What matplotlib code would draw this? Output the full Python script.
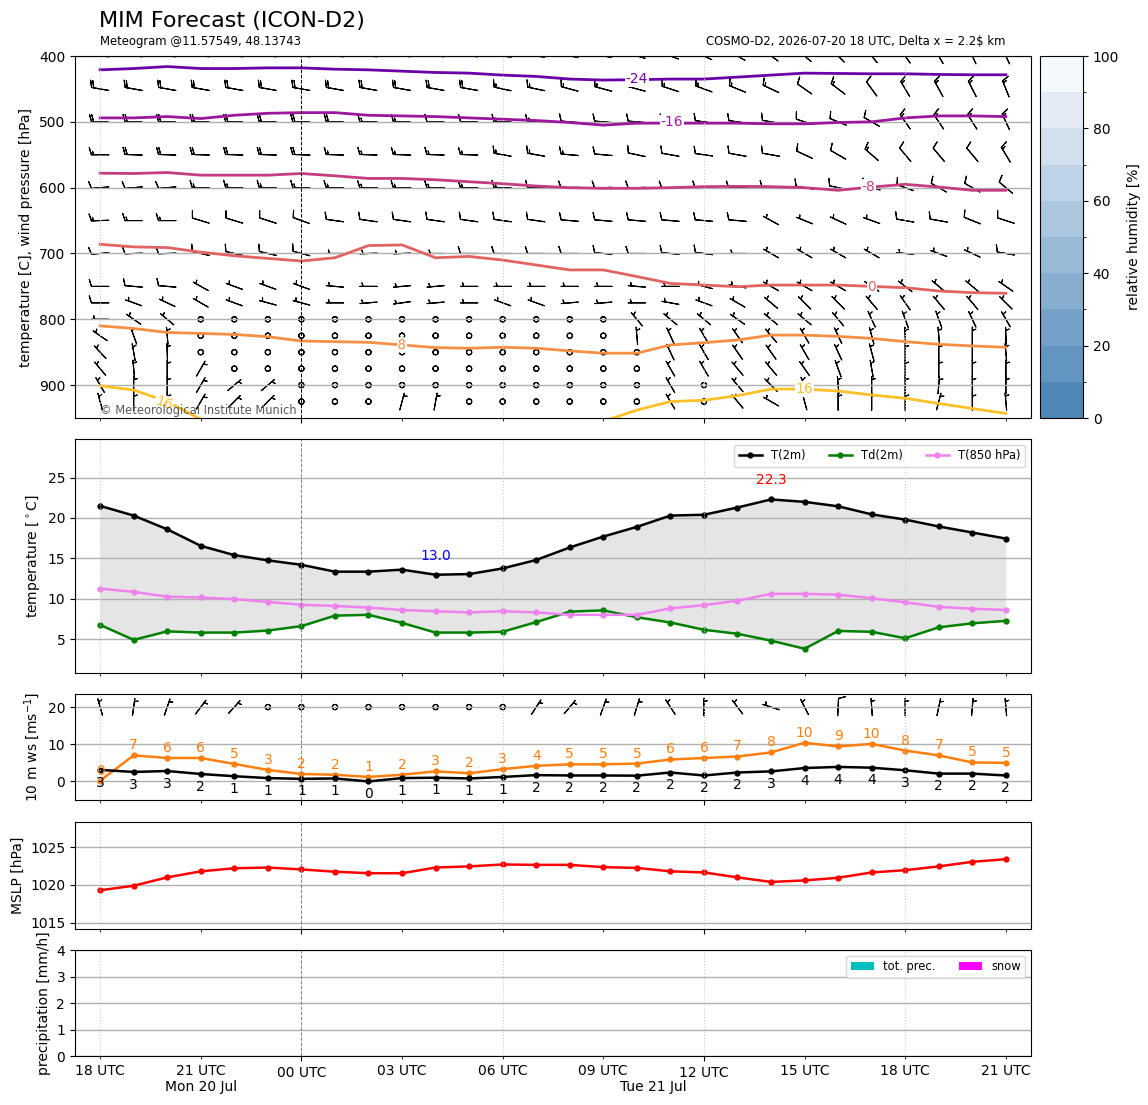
import numpy as np
import pandas as pd
import matplotlib
matplotlib.use("Agg")
import matplotlib.pyplot as plt
import matplotlib.dates as mdates
import matplotlib.transforms as mtransforms
from matplotlib.colors import LinearSegmentedColormap, ListedColormap, BoundaryNorm
from matplotlib.cm import ScalarMappable

# ---------------- data ----------------
times = pd.date_range("2026-07-20 18:00", periods=28, freq="h")

t2m = [21.5, 20.3, 18.6, 16.55, 15.4, 14.75, 14.2, 13.35, 13.35, 13.6, 12.97, 13.05, 13.75, 14.8,
       16.35, 17.7, 18.9, 20.3, 20.4, 21.3, 22.3, 22.0, 21.45, 20.45, 19.8, 18.95, 18.2, 17.45]
td2m = [6.75, 4.9, 5.95, 5.8, 5.8, 6.05, 6.6, 7.9, 8.0, 7.0, 5.8, 5.8, 5.9, 7.1,
        8.4, 8.55, 7.7, 7.05, 6.15, 5.65, 4.8, 3.8, 6.0, 5.9, 5.1, 6.45, 6.95, 7.25]
t850 = [11.25, 10.85, 10.25, 10.15, 9.95, 9.6, 9.25, 9.1, 8.9, 8.6, 8.45, 8.3, 8.45, 8.3,
        8.0, 8.0, 8.0, 8.8, 9.2, 9.75, 10.6, 10.6, 10.5, 10.05, 9.55, 9.0, 8.75, 8.6]

ws10 = [3.1, 2.55, 2.8, 2.0, 1.4, 0.9, 0.7, 0.8, 0.0, 0.9, 1.0, 0.8, 1.2, 1.7,
        1.6, 1.6, 1.55, 2.4, 1.6, 2.4, 2.7, 3.6, 3.9, 3.7, 3.0, 2.1, 2.1, 1.6]
gust10 = [0.2, 7.0, 6.3, 6.3, 4.7, 3.1, 2.0, 1.8, 1.2, 1.8, 2.7, 2.2, 3.3, 4.2,
          4.6, 4.6, 4.8, 5.9, 6.3, 6.7, 7.8, 10.4, 9.4, 10.1, 8.3, 7.0, 5.1, 5.0]
wd10 = [344, 8, 19, 37, 42, 40, 40, 40, 40, 40, 40, 40, 40, 33,
        40, 20, 17, 327, 0, 323, 288, 333, 3, 356, 0, 12, 5, 355]

mslp = [1019.3, 1019.9, 1021.0, 1021.8, 1022.2, 1022.3, 1022.05, 1021.75, 1021.55, 1021.55,
        1022.3, 1022.45, 1022.7, 1022.65, 1022.65, 1022.35, 1022.25, 1021.8, 1021.65, 1021.0,
        1020.4, 1020.6, 1020.95, 1021.65, 1021.95, 1022.45, 1023.05, 1023.4]

precip = [0, 0, 0, 0, 0, 0, 0, 0, 0, 0, 0, 0, 0, 0, 0, 0, 0, 0, 0, 0, 0, 0, 0, 0, 0, 0, 0, 0]
snow = [0, 0, 0, 0, 0, 0, 0, 0, 0, 0, 0, 0, 0, 0, 0, 0, 0, 0, 0, 0, 0, 0, 0, 0, 0, 0, 0, 0]

# isotherm heights [hPa] per hour (nan = outside panel)
nan = np.nan
iso_m24 = [421, 419, 416, 419, 419, 418, 418, 420, 421, 423, 425, 426, 429, 431,
           435, 436.5, 436, 435, 435, 432, 429, 426, 426.5, 427, 427, 428, 428.5, 428.5]
iso_m16 = [494, 494, 492, 495, 490, 487, 486, 486, 490, 491, 492, 494, 496, 498,
           501, 505, 502, 502, 502, 502, 503, 503, 501, 500, 494, 491, 491, 492]
iso_m8 = [578, 578.5, 577, 581, 581, 581, 578.5, 582, 586, 586, 588, 591, 594, 597.5,
          600, 601, 601, 600, 598.5, 598, 598.5, 600, 604, 599, 595, 599, 604, 604]
iso_0 = [686, 690, 691, 698, 703.5, 707.5, 711.5, 706.5, 688, 687, 706.5, 704.5, 710, 717.5,
         725, 725, 735, 745.5, 748, 750.5, 748, 748, 748, 750, 752, 757, 759.5, 760.5]
iso_8 = [810, 814, 820, 821.5, 823, 826.5, 833, 834, 835, 839, 843, 844, 842.5, 844,
         848, 851.5, 851.5, 839, 835.5, 831.5, 824, 824, 826, 829, 834, 838, 840.5, 842.5]
iso_16 = [901, 907.5, 925, 952, nan, nan, nan, nan, nan, nan, nan, nan, nan, nan,
          nan, 955, 938, 925, 923, 916, 906, 906, 909, 915, 920, 928, 935.5, 943]
iso_values = [-24, -16, -8, 0, 8, 16]

# upper air wind: speed [kt] and direction [deg] per level
levels = [400, 450, 500, 550, 600, 650, 700, 750, 775, 800, 825, 850, 875, 900, 925]
ff400 = [20, 20, 20, 20, 20, 20, 20, 20, 20, 20, 20, 20, 20, 20, 15, 15, 15, 15, 15, 15, 15, 15, 15, 15, 15, 15, 15, 15]
dd400 = [275, 275, 275, 275, 275, 275, 275, 275, 275, 275, 275, 275, 278, 278, 280, 280, 285, 290, 295, 300, 305, 310, 315, 320, 325, 330, 335, 335]
ff450 = [20, 20, 20, 20, 20, 20, 20, 20, 20, 20, 20, 20, 15, 15, 15, 15, 15, 15, 15, 15, 15, 10, 15, 10, 15, 15, 15, 15]
dd450 = [280, 280, 280, 280, 280, 280, 280, 280, 280, 280, 280, 280, 282, 282, 285, 285, 285, 288, 290, 292, 295, 305, 307, 324, 329, 331, 333, 338]
ff500 = [20, 20, 20, 20, 20, 20, 20, 20, 15, 15, 10, 10, 15, 15, 10, 10, 10, 10, 10, 10, 10, 10, 10, 10, 15, 15, 15, 15]
dd500 = [272, 272, 272, 272, 272, 272, 272, 272, 272, 272, 272, 272, 272, 272, 275, 275, 275, 275, 278, 278, 280, 288, 292, 300, 325, 326, 328, 335]
ff550 = [15, 20, 20, 20, 20, 20, 20, 15, 15, 15, 15, 15, 15, 15, 15, 10, 10, 10, 10, 10, 10, 10, 10, 15, 10, 10, 10, 15]
dd550 = [270, 272, 272, 272, 272, 272, 272, 272, 272, 272, 272, 272, 280, 280, 275, 275, 282, 280, 278, 280, 280, 295, 300, 311, 320, 320, 320, 329]
ff600 = [10, 10, 10, 15, 15, 15, 15, 15, 15, 15, 15, 15, 15, 10, 10, 10, 10, 10, 10, 10, 10, 10, 10, 10, 10, 10, 10, 10]
dd600 = [265, 265, 265, 272, 272, 272, 272, 270, 270, 270, 270, 270, 272, 272, 268, 268, 268, 268, 268, 268, 270, 280, 282, 285, 290, 300, 300, 310]
ff650 = [15, 15, 15, 10, 10, 10, 10, 10, 10, 10, 10, 10, 10, 10, 10, 10, 10, 10, 10, 10, 5, 5, 5, 5, 10, 10, 10, 10]
dd650 = [268, 270, 270, 287, 287, 288, 290, 278, 278, 278, 278, 278, 278, 278, 275, 275, 275, 275, 275, 275, 299, 292, 295, 290, 280, 280, 292, 288]
ff700 = [10, 10, 10, 10, 10, 10, 10, 5, 5, 5, 5, 10, 10, 10, 10, 10, 10, 10, 10, 5, 5, 5, 5, 5, 5, 5, 5, 10]
dd700 = [265, 268, 268, 283, 283, 283, 285, 270, 268, 268, 270, 270, 270, 270, 270, 275, 270, 275, 278, 270, 300, 300, 300, 300, 275, 290, 295, 280]
ff750 = [10, 10, 10, 5, 5, 5, 5, 5, 5, 5, 5, 5, 5, 5, 5, 5, 5, 5, 5, 5, 5, 5, 5, 5, 5, 5, 5, 5]
dd750 = [270, 275, 275, 299, 290, 290, 290, 275, 270, 265, 265, 270, 270, 270, 270, 270, 275, 270, 285, 280, 300, 300, 300, 305, 308, 310, 310, 305]
ff775 = [10, 5, 5, 5, 5, 5, 5, 5, 5, 5, 5, 5, 5, 5, 5, 5, 5, 5, 5, 5, 5, 5, 5, 5, 5, 5, 5, 5]
dd775 = [270, 290, 295, 300, 290, 285, 285, 270, 265, 262, 265, 270, 290, 290, 265, 265, 270, 280, 290, 300, 310, 315, 315, 320, 325, 320, 320, 315]
ff800 = [5, 5, 5, 0, 0, 0, 0, 0, 0, 0, 0, 0, 0, 0, 0, 0, 5, 5, 5, 5, 5, 5, 5, 5, 5, 5, 5, 5]
dd800 = [270, 305, 310, 0, 0, 0, 0, 0, 0, 0, 0, 0, 0, 0, 0, 0, 320, 310, 310, 305, 310, 310, 320, 335, 340, 340, 335, 330]
ff825 = [5, 5, 5, 0, 0, 0, 0, 0, 0, 0, 0, 0, 0, 0, 0, 0, 5, 5, 5, 5, 5, 5, 5, 5, 5, 5, 5, 5]
dd825 = [305, 340, 355, 0, 0, 0, 0, 0, 0, 0, 0, 0, 0, 0, 0, 0, 355, 335, 330, 325, 320, 330, 335, 345, 358, 355, 360, 358]
ff850 = [5, 5, 5, 0, 0, 0, 0, 0, 0, 0, 0, 0, 0, 0, 0, 0, 0, 5, 5, 5, 5, 5, 5, 5, 5, 5, 5, 5]
dd850 = [317, 350, 358, 0, 0, 0, 0, 0, 0, 0, 0, 0, 0, 0, 0, 0, 0, 335, 330, 325, 325, 330, 335, 345, 360, 360, 360, 355]
ff875 = [5, 5, 5, 5, 0, 0, 0, 0, 0, 0, 0, 0, 0, 0, 0, 0, 0, 5, 5, 5, 5, 5, 5, 5, 5, 5, 5, 5]
dd875 = [320, 355, 360, 30, 0, 0, 0, 0, 0, 0, 0, 0, 0, 0, 0, 0, 0, 330, 330, 320, 320, 325, 340, 350, 360, 360, 360, 360]
ff900 = [5, 5, 5, 5, 5, 5, 0, 0, 0, 0, 0, 0, 0, 0, 0, 0, 0, 5, 0, 5, 5, 5, 5, 5, 5, 5, 5, 5]
dd900 = [330, 360, 360, 30, 50, 50, 0, 0, 0, 0, 0, 0, 0, 0, 0, 0, 0, 330, 0, 320, 315, 335, 355, 360, 360, 5, 360, 360]
ff925 = [5, 5, 5, 5, 5, 5, 0, 0, 0, 5, 5, 0, 0, 0, 0, 0, 0, 5, 0, 5, 5, 5, 5, 5, 5, 5, 5, 5]
dd925 = [345, 360, 360, 30, 45, 45, 0, 0, 0, 15, 10, 0, 0, 0, 0, 0, 0, 330, 0, 320, 300, 345, 360, 360, 360, 15, 360, 355]

# ---------------- plot ----------------
x = mdates.date2num(times.to_pydatetime())
hr = 1.0 / 24

fig = plt.figure(figsize=(11.48, 11.05), dpi=100)
L, W = 0.0653, 0.8328
ax1 = fig.add_axes([L, 0.6217, W, 0.3276])
cax = fig.add_axes([0.9059, 0.6217, 0.0375, 0.3276])
ax2 = fig.add_axes([L, 0.3910, W, 0.2118], sharex=ax1)
ax3 = fig.add_axes([L, 0.2760, W, 0.0959], sharex=ax1)
ax4 = fig.add_axes([L, 0.1593, W, 0.0968], sharex=ax1)
ax5 = fig.add_axes([L, 0.0443, W, 0.0959], sharex=ax1)
axes = [ax1, ax2, ax3, ax4, ax5]

# --- upper air panel
ff = np.array([ff400, ff450, ff500, ff550, ff600, ff650, ff700, ff750, ff775,
               ff800, ff825, ff850, ff875, ff900, ff925], dtype=float)
dd = np.deg2rad(np.array([dd400, dd450, dd500, dd550, dd600, dd650, dd700, dd750, dd775,
                          dd800, dd825, dd850, dd875, dd900, dd925], dtype=float))
XX, PP = np.meshgrid(x, levels)
ax1.barbs(XX, PP, -ff * np.sin(dd), -ff * np.cos(dd), length=5, pivot="middle", lw=0.8)

# isotherm colours: plasma normalised over -36 .. 24 C
iso_cols = plt.cm.plasma([(v + 36) / 60 for v in iso_values])
for iso, col in zip([iso_m24, iso_m16, iso_m8, iso_0, iso_8, iso_16], iso_cols):
    ax1.plot(x, iso, color=col, lw=2)
# inline labels (hour offset, pressure, rotation)
lab_pos = [(16.0, 435, 0), (17.05, 501, 0), (22.9, 599, 0), (23.0, 751, 0), (9.0, 839, -3), (1.9, 927, -20), (21.0, 906, 0)]
lab_idx = [0, 1, 2, 3, 4, 5, 5]
for (h, p, rot), k in zip(lab_pos, lab_idx):
    ax1.text(x[0] + h * hr, p, str(iso_values[k]), color=iso_cols[k], fontsize=10,
             ha="center", va="center", rotation=rot,
             bbox=dict(fc="white", ec="none", pad=0.5), zorder=3)

ax1.set_ylim(950, 400)
ax1.set_yticks([400, 500, 600, 700, 800, 900])
ax1.set_ylabel("temperature [C], wind pressure [hPa]")
trans1 = mtransforms.blended_transform_factory(ax1.transData, ax1.transAxes)
ax1.text(x[0], 0.022, "\u00a9 Meteorological Institute Munich", transform=trans1,
         color="0.35", fontsize=8.3, va="center", ha="left")
ax1.text(x[0], 1.041, "Meteogram @11.57549, 48.13743", transform=trans1, fontsize=8.4, va="center")
ax1.text(x[-1], 1.041, "COSMO-D2, 2026-07-20 18 UTC, Delta x = 2.2$ km", transform=trans1,
         fontsize=8.4, va="center", ha="right")
fig.text(0.0862, 0.981, "MIM Forecast (ICON-D2)", fontsize=16, va="center")

# relative humidity colorbar
rh_levels = np.arange(0, 101, 10)
base = LinearSegmentedColormap.from_list("rh", ["#4682b4", "white"])
cmap_rh = ListedColormap(base(np.linspace(0.05, 0.95, 10)))
cb = fig.colorbar(ScalarMappable(norm=BoundaryNorm(rh_levels, 10), cmap=cmap_rh),
                  cax=cax, ticks=range(0, 101, 20))
cb.set_label("relative humidity [%]", labelpad=6)

# --- temperature panel
ax2.fill_between(x, td2m, t2m, color="0.5", alpha=0.2, lw=0)
ax2.plot(x, t2m, color="k", marker=".", lw=1.8, ms=7, label="T(2m)")
ax2.plot(x, td2m, color="green", marker=".", lw=1.8, ms=7, label="Td(2m)")
ax2.plot(x, t850, color="violet", marker=".", lw=1.8, ms=7, label="T(850 hPa)")
imin, imax = int(np.argmin(t2m)), int(np.argmax(t2m))
ax2.text(x[imin], t2m[imin] + 1.5, f"{t2m[imin]:.1f}", color="blue", ha="center", va="bottom", fontsize=10)
ax2.text(x[imax], t2m[imax] + 1.5, f"{t2m[imax]:.1f}", color="red", ha="center", va="bottom", fontsize=10)
ax2.set_ylim(0.8, 29.8)
ax2.set_ylabel(r"temperature [$^\circ$C]")
ax2.legend(loc="upper right", ncol=3, fontsize=8.3)

# --- 10 m wind panel
ax3.plot(x, gust10, color="C1", marker=".", lw=1.8, ms=7)
ax3.plot(x, ws10, color="k", marker=".", lw=1.8, ms=7)
for xi, g, w in zip(x, gust10, ws10):
    ax3.text(xi, g + 2.7, f"{g:.0f}", color="C1", ha="center", va="center", fontsize=10)
    ax3.text(xi, w - 3.4, f"{w:.0f}", color="k", ha="center", va="center", fontsize=10)
kt = np.array(ws10) * 1.94
d10 = np.deg2rad(wd10)
ax3.barbs(x, np.full(len(x), 20), -kt * np.sin(d10), -kt * np.cos(d10), length=5, pivot="middle", lw=0.8)
ax3.set_ylim(-5, 23.5)
ax3.set_yticks([0, 10, 20])
ax3.set_ylabel(r"10 m ws [ms$^{-1}$]")

# --- MSLP panel
ax4.plot(x, mslp, color="red", marker=".", lw=1.8, ms=7)
ax4.set_ylim(1014.2, 1028.3)
ax4.set_yticks([1015, 1020, 1025])
ax4.set_ylabel("MSLP [hPa]")

# --- precipitation panel
ax5.bar(x, precip, width=0.8 * hr, color="c", label="tot. prec.")
ax5.bar(x, snow, width=0.8 * hr, color="magenta", label="snow")
ax5.set_ylim(0, 4)
ax5.set_yticks([0, 1, 2, 3, 4])
ax5.set_ylabel("precipitation [mm/h]")
ax5.legend(loc="upper right", ncol=2, fontsize=8.3)

# --- common time axis
ax5.set_xlim(x[0] - 0.75 * hr, x[-1] + 0.75 * hr)
ax5.xaxis.set_major_locator(mdates.HourLocator(byhour=[0, 12]))
ax5.xaxis.set_minor_locator(mdates.HourLocator(byhour=range(0, 24, 3)))
ax5.xaxis.set_major_formatter(mdates.DateFormatter("%H UTC"))
ax5.xaxis.set_minor_formatter(mdates.DateFormatter("%H UTC"))
trans5 = mtransforms.blended_transform_factory(ax5.transData, ax5.transAxes)
ax5.text(x[3], -0.29, "Mon 20 Jul", transform=trans5, ha="center", va="center")
ax5.text(x[0] + 16.5 * hr, -0.29, "Tue 21 Jul", transform=trans5, ha="center", va="center")

for ax in axes:
    ax.grid(axis="y", color="#b0b0b0", lw=1)
    if ax is not ax5:
        ax.tick_params(which="both", labelbottom=False)
    for i in range(0, len(x), 6):
        if times[i].hour == 0:
            ax.axvline(x[i], color="k" if ax is ax1 else "0.5", ls="--", lw=0.7)
        else:
            ax.axvline(x[i], color="0.8", ls=":", lw=0.8)

fig.savefig("out.png", dpi=100)
